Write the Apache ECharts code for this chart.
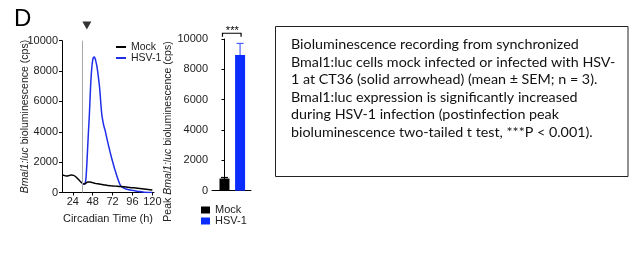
<!DOCTYPE html>
<html>
<head>
<meta charset="utf-8">
<script src="https://cdn.jsdelivr.net/npm/echarts@6/dist/echarts.min.js"></script>
<style>html,body{margin:0;padding:0;background:#fff}#c{width:640px;height:254px}</style>
</head>
<body>
<div id="c"></div>
<script>
// ---- data ----
const mockTime  = [11,13,16,19,22,25,28,31,34,36,38,40,42,45,48,51,54,58,62,66,70,75,80,85,90,95,100,105,110,115,120];
const mockValue = [1150,1130,1090,1110,1150,1130,1020,850,680,580,560,620,690,690,650,600,570,540,500,460,440,420,400,380,350,320,290,260,230,200,170];
const hsvTime  = [36,38,39,40,41,42,43,44,45,46,47,48,49,50,51,52,53,54,55,56,57,58,59,60,61,62,63,64,66,68,70,72,74,76,78,80,82,85,88,92,96,100,105,110,115,120];
const hsvValue = [580,540,620,1000,1900,3000,4100,5100,6400,7500,8250,8700,8900,8920,8820,8600,8350,8000,7550,7100,6500,5750,5150,4800,4500,4280,4100,3850,3350,2900,2450,2050,1650,1300,950,650,430,300,230,180,140,100,60,20,5,0];
const xTicks = [24,48,72,96,120];
const infectionTime = 36;
const arrowMark = [41, 11000];
const barCategories = ['Mock','HSV-1'];
const barMeans = [800, 8950];
const barSem = [70, 760];
const sigText = '***';
const captionLines = [
  'Bioluminescence recording from synchronized',
  'Bmal1:luc cells mock infected or infected with HSV-',
  '1 at CT36 (solid arrowhead) (mean \u00b1 SEM; n = 3).',
  'Bmal1:luc expression is significantly increased',
  'during HSV-1 infection (postinfection peak',
  'bioluminescence two-tailed t test, ***P < 0.001).'
];

const zip = (a,b) => a.map((v,i)=>[v,b[i]]);
const FONT = '"Liberation Sans", Arial, sans-serif';
const BLUE_LINE = '#1f2fe8';
const BLUE_BAR = '#0a2cff';
const barColors = ['#000000', BLUE_BAR];
const errColors = ['#000000', '#4a62ff'];
const plainNum = v => String(v);

const axisCommon = {
  axisLine: {show:true, lineStyle:{color:'#000', width:1}},
  axisTick: {show:true, length:3, lineStyle:{color:'#000', width:1}},
  axisLabel: {color:'#222', fontSize:11, fontFamily:FONT, margin:4, formatter:plainNum},
  splitLine: {show:false}
};

const chart = echarts.init(document.getElementById('c'), null, {renderer:'canvas'});
chart.setOption({
  animation:false,
  backgroundColor:'#fff',
  textStyle:{fontFamily:FONT},
  grid:[
    {left:62, top:40.7, width:92, height:151.8},
    {left:212, top:39, width:39, height:151.7}
  ],
  xAxis:[
    Object.assign({}, axisCommon, {
      gridIndex:0, type:'value', min:11, max:122,
      axisTick:{show:true, length:3, lineStyle:{color:'#000'}, customValues:xTicks},
      axisLabel:{color:'#222', fontSize:11, fontFamily:FONT, margin:4, customValues:xTicks, formatter:plainNum},
      name:'Circadian Time (h)', nameLocation:'middle', nameGap:21, nameMoveOverlap:false,
      nameTextStyle:{fontSize:11, color:'#222', fontFamily:FONT}
    }),
    {gridIndex:1, type:'value', min:-0.8, max:1.7,
     axisLine:{show:true, lineStyle:{color:'#000'}}, axisTick:{show:false}, axisLabel:{show:false}, splitLine:{show:false}}
  ],
  yAxis:[
    Object.assign({}, axisCommon, {
      gridIndex:0, type:'value', min:0, max:10000, interval:2000,
      name:'{i|Bmal1:luc} bioluminescence (cps)', nameLocation:'middle', nameGap:31, nameMoveOverlap:false,
      nameTextStyle:{fontSize:10.5, color:'#222', fontFamily:FONT, rich:{i:{fontStyle:'italic', fontSize:10.5, fontFamily:FONT, color:'#222'}}}
    }),
    Object.assign({}, axisCommon, {
      gridIndex:1, type:'value', min:0, max:10000, interval:2000
    })
  ],
  legend:[
    {orient:'vertical', left:111, top:36.5, itemWidth:10, itemHeight:2, itemGap:0,
     textStyle:{fontSize:10.5, color:'#222', fontFamily:FONT, lineHeight:10},
     selectedMode:false,
     data:[{name:'Mock', icon:'rect', itemStyle:{color:'#000'}},
           {name:'HSV-1', icon:'rect', itemStyle:{color:BLUE_LINE}}]},
    {orient:'vertical', left:196, top:199.5, itemWidth:9, itemHeight:7, itemGap:0,
     textStyle:{fontSize:11, color:'#222', fontFamily:FONT, lineHeight:11},
     selectedMode:false,
     data:[{name:'Mock', icon:'rect', itemStyle:{color:'#000'}},
           {name:'HSV-1', icon:'rect', itemStyle:{color:BLUE_BAR}}]}
  ],
  series:[
    {type:'line', name:'Mock', xAxisIndex:0, yAxisIndex:0, data:zip(mockTime,mockValue),
     showSymbol:false, smooth:0.3, lineStyle:{color:'#000', width:1.5}, itemStyle:{color:'#000'}, z:3,
     markLine:{silent:true, symbol:'none', label:{show:false},
       lineStyle:{color:'#a8a8a8', width:1, type:'solid'}, data:[{xAxis:infectionTime}]}},
    {type:'line', name:'HSV-1', xAxisIndex:0, yAxisIndex:0, data:zip(hsvTime,hsvValue),
     showSymbol:false, smooth:0.3, lineStyle:{color:BLUE_LINE, width:1.5}, itemStyle:{color:BLUE_LINE}, z:2},
    {type:'scatter', xAxisIndex:0, yAxisIndex:0, data:[arrowMark], symbol:'triangle', symbolRotate:180,
     symbolSize:[9,8], itemStyle:{color:'#000'}, clip:false, silent:true},
    {type:'bar', name:barCategories[0], xAxisIndex:1, yAxisIndex:1, data:[[0, barMeans[0]]], barWidth:10, barGap:'-100%',
     itemStyle:{color:barColors[0]}},
    {type:'bar', name:barCategories[1], xAxisIndex:1, yAxisIndex:1, data:[[1, barMeans[1]]], barWidth:10, barGap:'-100%',
     itemStyle:{color:barColors[1]}},
    {type:'custom', xAxisIndex:1, yAxisIndex:1, silent:true, z:5,
     data:barMeans.map((m,i)=>[i, m, barSem[i]]),
     renderItem:function(params, api){
       const x = api.value(0), m = api.value(1), s = api.value(2);
       const b = api.coord([x, m]); const t = api.coord([x, m + s]);
       const col = errColors[params.dataIndex];
       return {type:'group', children:[
         {type:'line', shape:{x1:b[0], y1:b[1], x2:b[0], y2:t[1]}, style:{stroke:col, lineWidth:1.2}},
         {type:'line', shape:{x1:b[0]-3.5, y1:t[1], x2:b[0]+3.5, y2:t[1]}, style:{stroke:col, lineWidth:1.2}}
       ]};
     }},
    {type:'custom', xAxisIndex:1, yAxisIndex:1, silent:true, clip:false, z:5,
     data:[[0, 1, 10150, 10380]],
     renderItem:function(params, api){
       const a = api.coord([api.value(0), api.value(2)]);
       const b = api.coord([api.value(1), api.value(3)]);
       const c = api.coord([api.value(1), api.value(2)]);
       return {type:'group', children:[
         {type:'polyline', shape:{points:[[a[0]-2,a[1]],[a[0]-2,b[1]],[c[0]+1,b[1]],[c[0]+1,c[1]]]},
          style:{stroke:'#000', lineWidth:1.2, fill:null}},
         {type:'text', style:{text:sigText, x:(a[0]+c[0])/2, y:b[1]+3, textAlign:'center', textVerticalAlign:'bottom',
          fontSize:11, fontFamily:FONT, fill:'#000'}}
       ]};
     }}
  ],
  graphic:[
    {type:'text', left:14, top:7, style:{text:'D', fontSize:24, fontFamily:FONT, fill:'#000'}},
    {type:'text', x:168, y:131.5, rotation:Math.PI/2,
     style:{text:'Peak {i|Bmal1:luc} bioluminescence (cps)', align:'center', verticalAlign:'middle',
       fontSize:10.5, fontFamily:FONT, fill:'#222',
       rich:{i:{fontStyle:'italic', fontSize:10.5, fontFamily:FONT, fill:'#222'}}}},
    {type:'rect', shape:{x:275.5, y:26.5, width:352.5, height:150}, style:{fill:'#fff', stroke:'#222', lineWidth:1}},
    {type:'text', x:291, y:36, style:{text:captionLines.join('\n'), fontSize:14.3, lineHeight:17.5,
      fontFamily:'Lato, "Open Sans", sans-serif', fill:'#111'}}
  ]
});
</script>
</body>
</html>
